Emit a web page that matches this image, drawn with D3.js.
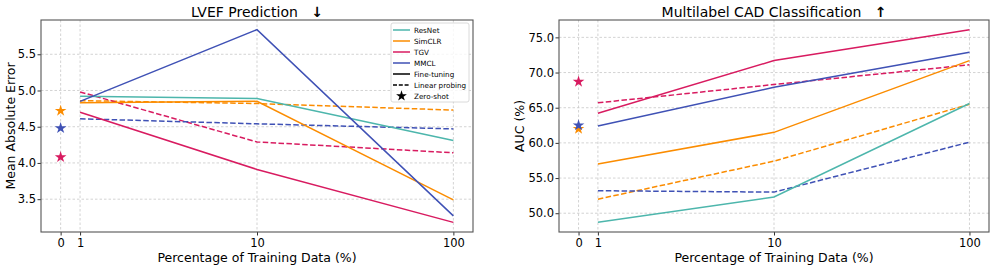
<!DOCTYPE html>
<html>
<head>
<meta charset="utf-8">
<script src="https://cdn.jsdelivr.net/npm/d3@7"></script>
<style>
  body { margin: 0; background: #fff; }
  svg { display: block; font-family: "DejaVu Sans", sans-serif; }
</style>
</head>
<body>
<div id="chart"></div>
<script>
// categories
const methods = ["ResNet", "SimCLR", "TGV", "MMCL"];
const methodColors = ["#4db6ac", "#fb8c00", "#d81b60", "#3f51b5"];
const xTicks = [0, 1, 10, 100];
const trainPct = [1, 10, 100];

// LVEF prediction (MAE), one row per method, null = not run
const lvefFineTuning = [
    [4.92, 4.89, 4.31],
    [4.83, 4.85, 3.49],
    [4.70, 3.91, 3.18],
    [4.85, 5.84, 3.27]
];
const lvefLinearProbing = [
    null,
    [4.86, 4.82, 4.73],
    [4.98, 4.29, 4.14],
    [4.61, 4.54, 4.47]
];
const lvefZeroShot = [null, 4.72, 4.08, 4.48];
const lvefTicks = [3.5, 4.0, 4.5, 5.0, 5.5];

// Multilabel CAD classification (AUC %)
const cadFineTuning = [
    [48.7, 52.3, 65.6],
    [57.0, 61.5, 71.7],
    [64.2, 71.7, 76.1],
    [62.4, 67.9, 72.9]
];
const cadLinearProbing = [
    null,
    [52.0, 57.4, 65.5],
    [65.7, 68.3, 71.1],
    [53.2, 53.0, 60.1]
];
const cadZeroShot = [null, 62.0, 68.7, 62.5];
const cadTicks = [50, 55, 60, 65, 70, 75];

const svg_width = 996, svg_height = 268;

const svg = d3.select("#chart")
    .append("svg")
    .attr("width", svg_width)
    .attr("height", svg_height);

const star = d3.symbol().type(d3.symbolStar).size(42);

const drawPanel = (cfg) => {
    const {left, right, top, bottom} = cfg;
    const g = svg.append("g");

    // x positions: 0 sits just left of 1, then 1 / 10 / 100
    const span = right - left;
    const pad = span / 1.1 * 0.05;
    const x0 = left + pad, x1 = right - pad;
    const x = d3.scaleLinear()
        .domain(xTicks)
        .range([x0, x0 + (x1 - x0) * 0.0495, x0 + (x1 - x0) * 0.5, x1]);

    const all = [];
    cfg.ft.forEach(r => r && all.push(...r));
    cfg.lp.forEach(r => r && all.push(...r));
    cfg.zs.forEach(v => v != null && all.push(v));
    const [lo, hi] = d3.extent(all);
    const m = (hi - lo) * 0.05;
    const y = d3.scaleLinear().domain([lo - m, hi + m]).range([bottom, top]);

    // grid
    g.append("g").selectAll("line.gx")
        .data(xTicks)
        .join("line")
            .attr("x1", d => x(d)).attr("x2", d => x(d))
            .attr("y1", top).attr("y2", bottom)
            .attr("stroke", "#c8c8c8")
            .attr("stroke-width", 0.8)
            .attr("stroke-dasharray", "2.5,2");
    g.append("g").selectAll("line.gy")
        .data(cfg.yTicks)
        .join("line")
            .attr("x1", left).attr("x2", right)
            .attr("y1", d => y(d)).attr("y2", d => y(d))
            .attr("stroke", "#c8c8c8")
            .attr("stroke-width", 0.8)
            .attr("stroke-dasharray", "2.5,2");

    // axes
    const xAxis = g.append("g")
        .attr("transform", `translate(0,${bottom})`)
        .call(d3.axisBottom(x).tickValues(xTicks).tickFormat(d3.format("d")).tickSize(3.5).tickPadding(3));
    const yAxis = g.append("g")
        .attr("transform", `translate(${left},0)`)
        .call(d3.axisLeft(y).tickValues(cfg.yTicks).tickFormat(d3.format(".1f")).tickSize(3.5).tickPadding(1.5));
    [xAxis, yAxis].forEach(a => {
        a.select(".domain").remove();
        a.selectAll("text").attr("font-size", 11.5).attr("fill", "#000")
            .attr("font-family", "DejaVu Sans");
        a.selectAll("line").attr("stroke", "#333");
    });

    const line = d3.line().x((d, i) => x(trainPct[i])).y(d => y(d));

    // linear probing (dashed)
    cfg.lp.forEach((row, k) => {
        if (!row) return;
        g.append("path")
            .attr("d", line(row))
            .attr("fill", "none")
            .attr("stroke", methodColors[k])
            .attr("stroke-width", 1.5)
            .attr("stroke-dasharray", "5.5,2.4");
    });
    // fine tuning (solid)
    cfg.ft.forEach((row, k) => {
        g.append("path")
            .attr("d", line(row))
            .attr("fill", "none")
            .attr("stroke", methodColors[k])
            .attr("stroke-width", 1.5);
    });
    // zero-shot stars
    cfg.zs.forEach((v, k) => {
        if (v == null) return;
        g.append("path")
            .attr("d", star())
            .attr("transform", `translate(${x(0)},${y(v)})`)
            .attr("fill", methodColors[k]);
    });

    // frame
    g.append("rect")
        .attr("x", left).attr("y", top)
        .attr("width", right - left).attr("height", bottom - top)
        .attr("fill", "none")
        .attr("stroke", "#555")
        .attr("stroke-width", 1.1);

    // title and labels
    const title = g.append("text")
        .attr("x", (left + right) / 2).attr("y", 17)
        .attr("text-anchor", "middle")
        .attr("font-size", 14)
        .attr("fill", "#000");
    title.append("tspan").text(cfg.title + "\u00a0\u00a0\u00a0");
    title.append("tspan")
        .attr("font-family", "DejaVu Sans")
        .attr("font-weight", "bold")
        .attr("fill", "#000")
        .text(cfg.arrow + "\uFE0E");
    g.append("text")
        .attr("x", (left + right) / 2).attr("y", 262)
        .attr("text-anchor", "middle")
        .attr("font-size", 12.5)
        .text("Percentage of Training Data (%)");
    g.append("text")
        .attr("transform", `translate(${cfg.ylabelX},${(top + bottom) / 2}) rotate(-90)`)
        .attr("text-anchor", "middle")
        .attr("font-size", 12.5)
        .text(cfg.ylabel);

    return {g, x, y};
};

const lvef = drawPanel({
    left: 41, right: 473, top: 20, bottom: 232,
    ft: lvefFineTuning, lp: lvefLinearProbing, zs: lvefZeroShot,
    yTicks: lvefTicks,
    title: "LVEF Prediction", arrow: "\u2193",
    ylabel: "Mean Absolute Error", ylabelX: 15
});

drawPanel({
    left: 559, right: 989, top: 20, bottom: 232,
    ft: cadFineTuning, lp: cadLinearProbing, zs: cadZeroShot,
    yTicks: cadTicks,
    title: "Multilabel CAD Classification", arrow: "\u2191",
    ylabel: "AUC (%)", ylabelX: 524
});

// legend in the left panel
const legendItems = methods.map((m, i) => ({label: m, color: methodColors[i], kind: "solid"}))
    .concat([
        {label: "Fine-tuning", color: "#000", kind: "solid"},
        {label: "Linear probing", color: "#000", kind: "dash"},
        {label: "Zero-shot", color: "#000", kind: "star"}
    ]);

const legend = lvef.g.append("g").attr("transform", "translate(391,23)");
legend.append("rect")
    .attr("width", 78).attr("height", 79)
    .attr("rx", 2)
    .attr("fill", "#fff").attr("fill-opacity", 0.8)
    .attr("stroke", "#d0d0d0").attr("stroke-width", 0.8);

const item = legend.selectAll("g.item")
    .data(legendItems)
    .join("g")
        .attr("transform", (d, i) => `translate(0,${7 + i * 11})`);
item.filter(d => d.kind !== "star").append("line")
    .attr("x1", 2).attr("x2", 19)
    .attr("stroke", d => d.color)
    .attr("stroke-width", 1.5)
    .attr("stroke-dasharray", d => d.kind === "dash" ? "4,1.8" : null);
item.filter(d => d.kind === "star").append("path")
    .attr("d", d3.symbol().type(d3.symbolStar).size(36)())
    .attr("transform", "translate(10.5,0)")
    .attr("fill", "#000");
item.append("text")
    .attr("x", 23).attr("y", 2.6)
    .attr("font-size", 7.2)
    .text(d => d.label);
</script>
</body>
</html>
